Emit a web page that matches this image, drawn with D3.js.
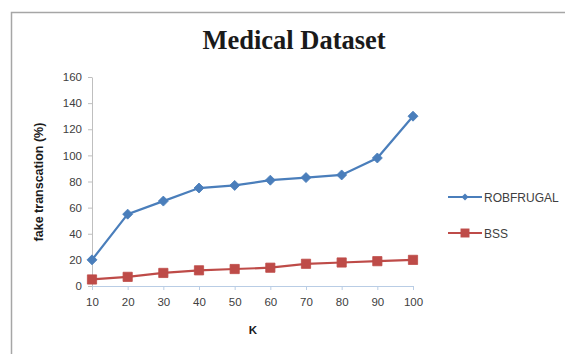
<!DOCTYPE html>
<html><head><meta charset="utf-8">
<script src="https://cdn.jsdelivr.net/npm/d3@7"></script>
<style>body{margin:0;background:#fff}</style>
</head><body>
<svg id="c" width="565" height="354"></svg>
<script>
const categories = [10, 20, 30, 40, 50, 60, 70, 80, 90, 100];
const robfrugal = [20, 55, 65, 75, 77, 81, 83, 85, 98, 130];
const bss = [5, 7, 10, 12, 13, 14, 17, 18, 19, 20];
const yTicks = [0, 20, 40, 60, 80, 100, 120, 140, 160];
const seriesNames = ["ROBFRUGAL", "BSS"];

const svg = d3.select("#c");
svg.append("path").attr("d", "M11.5,354 V12.5 H565").attr("fill", "none").attr("stroke", "#a6a6a6").attr("stroke-width", 1.5);

const x = d3.scaleLinear().domain([10, 100]).range([92, 413]);
const y = d3.scaleLinear().domain([0, 160]).range([286, 77]);

svg.append("text").attr("x", 294).attr("y", 49).attr("text-anchor", "middle")
  .attr("font-family", "Liberation Serif").attr("font-weight", "bold").attr("font-size", 26.5)
  .attr("fill", "#1a1a1a").text("Medical Dataset");

const font = "Liberation Sans";
const ya = svg.append("g").attr("transform", "translate(92,0)")
  .call(d3.axisLeft(y).tickValues(yTicks).tickSize(4).tickSizeOuter(0));
ya.select(".domain").attr("stroke", "#bfbfbf");
ya.selectAll(".tick line").attr("stroke", "#bfbfbf");
ya.selectAll("text").attr("font-family", font).attr("font-size", 11.5).attr("fill", "#404040").attr("dx", -3);

const xa = svg.append("g").attr("transform", "translate(0,286)")
  .call(d3.axisBottom(x).tickValues(categories).tickSize(4).tickSizeOuter(0));
xa.select(".domain").attr("stroke", "#b9cde5");
xa.selectAll(".tick line").attr("stroke", "#b9cde5");
xa.selectAll("text").attr("font-family", font).attr("font-size", 11.5).attr("fill", "#404040").attr("dy", "1.1em");

svg.append("text").attr("transform", "translate(43,182) rotate(-90)").attr("text-anchor", "middle")
  .attr("font-family", font).attr("font-weight", "bold").attr("font-size", 12.5).attr("fill", "#1a1a1a")
  .text("fake transcation (%)");
svg.append("text").attr("x", 253).attr("y", 334).attr("text-anchor", "middle")
  .attr("font-family", font).attr("font-weight", "bold").attr("font-size", 11.5).attr("fill", "#1a1a1a").text("K");

const line = d3.line().x((d, i) => x(categories[i])).y(d => y(d));
const colors = ["#4a7ebb", "#be4b48"];
function marker(s, px, py, size) {
  const rot = s === 0 ? 45 : 0;
  return `translate(${px},${py}) rotate(${rot})`;
}
[robfrugal, bss].forEach((data, s) => {
  svg.append("path").datum(data).attr("d", line).attr("fill", "none")
    .attr("stroke", colors[s]).attr("stroke-width", 2.2);
  const size = s === 0 ? 50 : 85;
  svg.selectAll(null).data(data).enter().append("path")
    .attr("transform", (d, i) => marker(s, x(categories[i]), y(d)))
    .attr("d", d3.symbol().type(d3.symbolSquare).size(size)).attr("fill", colors[s]).attr("stroke", colors[s]).attr("stroke-width", 0.8);
});

const ly = [197, 233];
seriesNames.forEach((n, s) => {
  const g = svg.append("g");
  g.append("line").attr("x1", 448).attr("x2", 482).attr("y1", ly[s]).attr("y2", ly[s]).attr("stroke", colors[s]).attr("stroke-width", 2.2);
  g.append("path").attr("transform", marker(s, 465, ly[s]))
    .attr("d", d3.symbol().type(d3.symbolSquare).size(s === 0 ? 25 : 80)).attr("fill", colors[s]);
  g.append("text").attr("x", 484).attr("y", ly[s] + 4.5).attr("font-family", font).attr("font-size", 12)
    .attr("fill", "#404040").text(n);
});
</script>
</body></html>
